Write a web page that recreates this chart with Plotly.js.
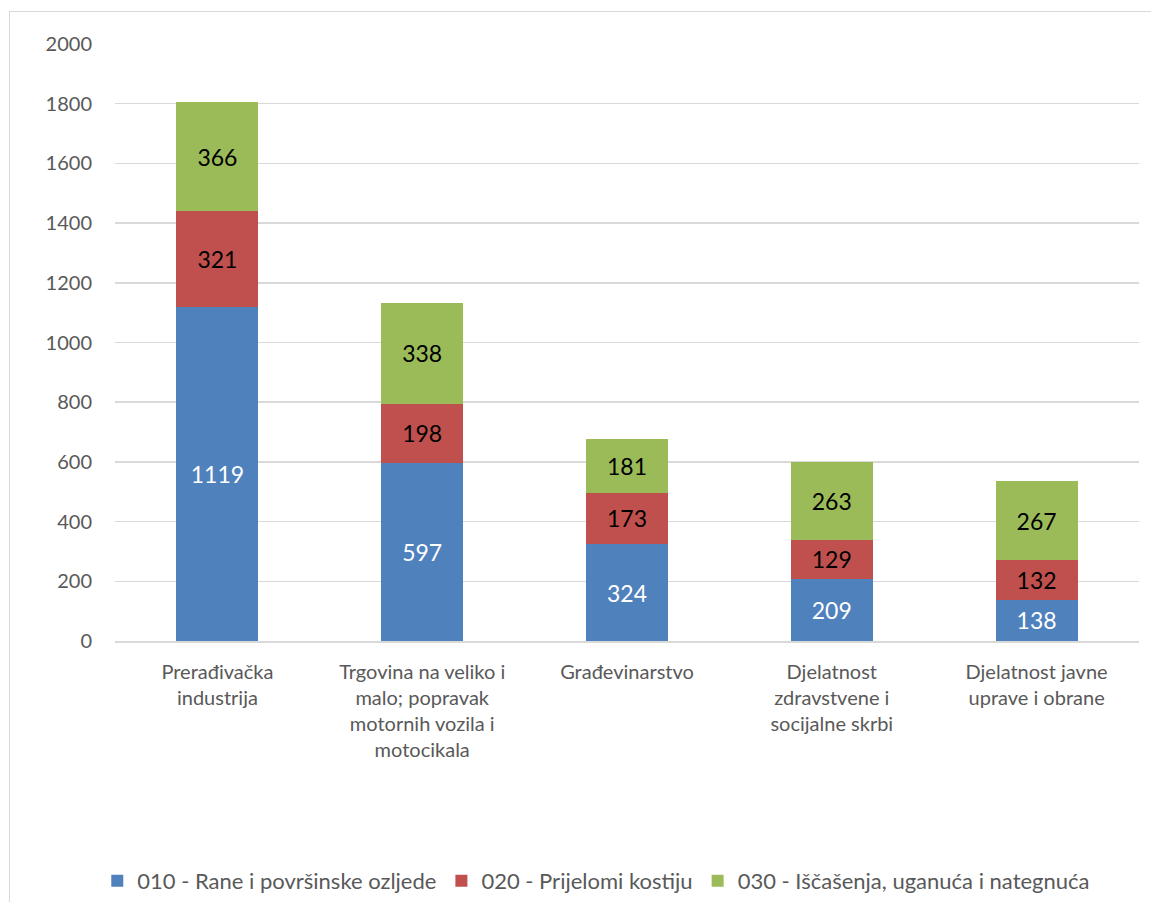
<!DOCTYPE html>
<html>
<head>
<meta charset="utf-8">
<script src="https://cdn.plot.ly/plotly-3.0.1.min.js"></script>
<style>
html,body{margin:0;padding:0;background:#fff;}
#chart{position:absolute;left:0;top:0;width:1151px;height:902px;}
#frame{position:absolute;left:9px;top:11px;width:1160px;height:900px;border-left:1.5px solid #d9d9d9;border-top:1.5px solid #d9d9d9;pointer-events:none;}
</style>
</head>
<body>
<div id="chart"></div>
<div id="frame"></div>
<script>
const categories = [
  "Prerađivačka<br>industrija",
  "Trgovina na veliko i<br>malo; popravak<br>motornih vozila i<br>motocikala",
  "Građevinarstvo",
  "Djelatnost<br>zdravstvene i<br>socijalne skrbi",
  "Djelatnost javne<br>uprave i obrane"
];
const seriesNames = [
  "010 - Rane i površinske ozljede",
  "020 - Prijelomi kostiju",
  "030 - Iščašenja, uganuća i nategnuća"
];
const rane = [1119, 597, 324, 209, 138];
const prijelomi = [321, 198, 173, 129, 132];
const iscasenja = [366, 338, 181, 263, 267];
const yTicks = [0, 200, 400, 600, 800, 1000, 1200, 1400, 1600, 1800, 2000];

const colors = ["#4F81BD", "#C0504D", "#9BBB59"];
const labelColors = ["#ffffff", "#000000", "#000000"];
const FONT = "Lato, 'Open Sans', sans-serif";

const traces = [rane, prijelomi, iscasenja].map((vals, i) => ({
  type: "bar",
  name: seriesNames[i],
  x: categories,
  y: vals,
  marker: {color: colors[i]},
  text: vals.map(String),
  textposition: "inside",
  insidetextanchor: "middle",
  textangle: 0,
  insidetextfont: {family: FONT, size: 23, color: labelColors[i]},
  hoverinfo: "skip"
}));

const layout = {
  width: 1151,
  height: 902,
  barmode: "stack",
  bargap: 0.6,
  margin: {l: 115, r: 12, t: 44, b: 261, autoexpand: false},
  paper_bgcolor: "#ffffff",
  plot_bgcolor: "#ffffff",
  font: {family: FONT, color: "#595959", size: 20},
  showlegend: true,
  legend: {
    orientation: "h",
    x: 0.47, xanchor: "center",
    y: -0.402, yanchor: "middle",
    font: {family: FONT, size: 22, color: "#595959"},
    itemwidth: 30,
    tracegroupgap: 0,
    traceorder: "normal"
  },
  xaxis: {
    type: "category",
    automargin: false,
    tickfont: {family: FONT, size: 20, color: "#595959"},
    showgrid: false,
    showline: true,
    linecolor: "#d9d9d9",
    linewidth: 1.5,
    ticks: "",
    ticklabelstandoff: 12,
    fixedrange: true
  },
  yaxis: {
    range: [0, 2000],
    automargin: false,
    tickvals: yTicks,
    ticktext: yTicks.map(String),
    tickfont: {family: FONT, size: 20, color: "#595959"},
    showgrid: true,
    gridcolor: "#d9d9d9",
    gridwidth: 1.5,
    zeroline: false,
    showline: false,
    ticks: "",
    ticklabelstandoff: 22,
    fixedrange: true
  }
};

Plotly.newPlot("chart", traces, layout, {displayModeBar: false, staticPlot: true});
</script>
</body>
</html>
